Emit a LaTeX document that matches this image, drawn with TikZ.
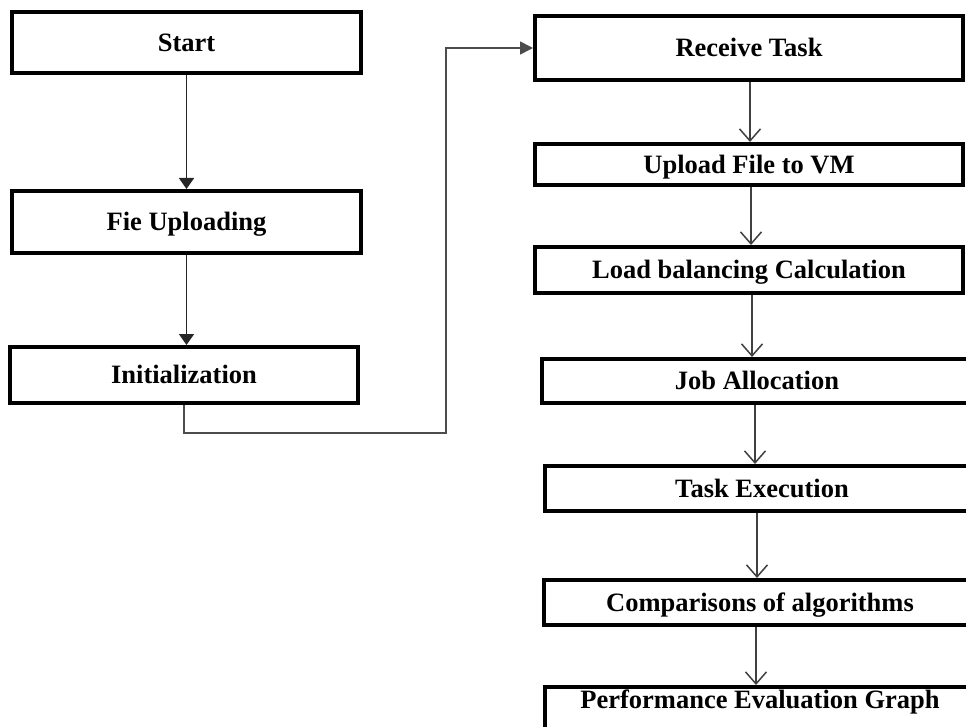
\documentclass[tikz,border=0pt]{standalone}
\usepackage{fontspec}
\setmainfont{Liberation Serif}
\usetikzlibrary{arrows.meta}
\begin{document}
\begin{tikzpicture}[x=1pt,y=-1pt,
  box/.style={draw=black, line width=4pt, fill=white, inner sep=0pt, anchor=center,
    text height=17.5pt, text depth=0pt,
    font=\bfseries\fontsize{26.5}{30}\selectfont},
  larrow/.style={draw=black!85, line width=1.6pt, -{Triangle[length=11pt,width=15pt]}},
  rarrow/.style={draw=black!75, line width=1.5pt, -{Straight Barb[length=12pt,width=21pt]}},
  link/.style={draw=black!70, line width=1.6pt, -{Triangle[length=13pt,width=13pt]}}]
\useasboundingbox (0,0) rectangle (966,727);
\clip (0,0) rectangle (966,727);
\fill[white] (0,0) rectangle (966,727);

% left column
\node[box, minimum width=349pt, minimum height=61pt] (start) at (186.5,42.5) {Start};
\node[box, minimum width=349pt, minimum height=62pt] (fie) at (186.5,222) {Fie Uploading};
\node[box, minimum width=348pt, minimum height=56pt] (init) at (184,375) {Initialization};

% right column
\node[box, minimum width=428pt, minimum height=64pt] (recv) at (749,48) {Receive Task};
\node[box, minimum width=428pt, minimum height=41pt] (upl) at (749,164.5) {Upload File to VM};
\node[box, minimum width=428pt, minimum height=46pt] (load) at (749,270) {Load balancing Calculation};
\node[box, minimum width=430pt, minimum height=44pt] (job) at (757,381) {Job Allocation};
\node[box, minimum width=434pt, minimum height=45pt] (task) at (762,488.5) {Task Execution};
\node[box, minimum width=432pt, minimum height=45pt] (comp) at (760,602.5) {Comparisons of algorithms};
\node[box, minimum width=430pt, minimum height=50pt, text height=17.5pt, text depth=25.5pt] (perf) at (760,712) {Performance Evaluation Graph};

% left connectors
\draw[larrow] (start.south) -- (fie.north);
\draw[larrow] (fie.south) -- (fie.south |- init.north);

% link from left column to right column
\coordinate (turn) at (446,433);
\draw[link] (init.south) |- (turn) |- (recv.west);

% right connectors
\draw[rarrow] ([xshift=1pt]recv.south) -- ([xshift=1pt]recv.south |- upl.north);
\draw[rarrow] ([xshift=2pt]upl.south) -- ([xshift=2pt]upl.south |- load.north);
\draw[rarrow] ([xshift=3pt]load.south) -- ([xshift=3pt]load.south |- job.north);
\draw[rarrow] ([xshift=-2pt]job.south) -- ([xshift=-2pt]job.south |- task.north);
\draw[rarrow] ([xshift=-5pt]task.south) -- ([xshift=-5pt]task.south |- comp.north);
\draw[rarrow] ([xshift=-4pt]comp.south) -- ([xshift=-4pt]comp.south |- perf.north);
\end{tikzpicture}
\end{document}
